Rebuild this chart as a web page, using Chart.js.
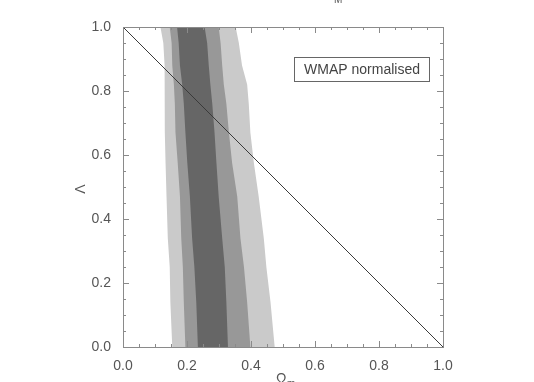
<!DOCTYPE html>
<html>
<head>
<meta charset="utf-8">
<script src="https://cdn.jsdelivr.net/npm/chart.js@4/dist/chart.umd.min.js"></script>
<style>
  html, body { margin: 0; padding: 0; background: #fff; }
</style>
</head>
<body>
<canvas id="chart" width="534" height="382"></canvas>
<script>
const lambdaLevels = [1.0, 0.95, 0.88, 0.82, 0.76, 0.67, 0.575, 0.47, 0.34, 0.25, 0.14, 0.0];
// Omega_m of each contour edge at those Lambda values
const lightLeft  = [0.117, 0.126, 0.130, 0.131, 0.130, 0.131, 0.133, 0.136, 0.140, 0.146, 0.148, 0.154];
const midLeft    = [0.146, 0.152, 0.154, 0.159, 0.162, 0.164, 0.171, 0.178, 0.182, 0.187, 0.190, 0.195];
const darkLeft   = [0.169, 0.174, 0.178, 0.185, 0.190, 0.195, 0.201, 0.209, 0.216, 0.223, 0.229, 0.234];
const darkRight  = [0.255, 0.263, 0.268, 0.273, 0.279, 0.286, 0.292, 0.299, 0.310, 0.318, 0.323, 0.328];
const midRight   = [0.299, 0.305, 0.310, 0.315, 0.323, 0.331, 0.341, 0.357, 0.367, 0.378, 0.388, 0.398];
const lightRight = [0.352, 0.362, 0.372, 0.388, 0.393, 0.398, 0.409, 0.424, 0.440, 0.448, 0.461, 0.474];
// flat universe line
const flatOmega  = [0, 1];
const flatLambda = [1, 0];
const tickStep = 0.2;
const legendText = 'WMAP normalised';

// closed shape: left edge going down, right edge coming back up
function band(left, right) {
  const pts = left.map((x, i) => ({ x, y: lambdaLevels[i] }));
  for (let i = right.length - 1; i >= 0; i -= 1) pts.push({ x: right[i], y: lambdaLevels[i] });
  return pts;
}

function bandSet(left, right, color) {
  return {
    data: band(left, right),
    showLine: true,
    fill: 'shape',
    backgroundColor: color,
    borderWidth: 0,
    pointRadius: 0,
    tension: 0,
  };
}

const textFont = '"Liberation Sans", Arial, sans-serif';

// IDL-ish frame: box on all four sides with inward ticks, plus the loose texts
const frameAndText = {
  id: 'frameAndText',
  afterDraw(chart) {
    const { ctx, chartArea: a, scales } = chart;
    const sx = scales.x;
    const sy = scales.y;
    ctx.save();
    ctx.strokeStyle = '#8a8a8a';
    ctx.lineWidth = 1;
    ctx.strokeRect(a.left + 0.5, a.top + 0.5, a.right - a.left, a.bottom - a.top);
    ctx.beginPath();
    for (let i = 0; i <= 20; i += 1) {
      const v = i / 20;
      const len = i % 4 === 0 ? 6 : 3;
      const px = Math.round(sx.getPixelForValue(v)) + 0.5;
      const py = Math.round(sy.getPixelForValue(v)) + 0.5;
      ctx.moveTo(px, a.bottom); ctx.lineTo(px, a.bottom - len);
      ctx.moveTo(px, a.top); ctx.lineTo(px, a.top + len);
      ctx.moveTo(a.left, py); ctx.lineTo(a.left + len, py);
      ctx.moveTo(a.right, py); ctx.lineTo(a.right - len, py);
    }
    ctx.stroke();

    // legend box
    ctx.strokeStyle = '#666';
    ctx.strokeRect(294.5, 57.5, 135, 24);
    ctx.fillStyle = '#444';
    ctx.font = '14px ' + textFont;
    ctx.textAlign = 'center';
    ctx.textBaseline = 'middle';
    ctx.fillText(legendText, 362, 70);

    // axis titles
    ctx.fillStyle = '#555';
    ctx.textAlign = 'left';
    ctx.textBaseline = 'alphabetic';
    ctx.font = '14px ' + textFont;
    ctx.fillText('\u03A9', 276, 383);
    ctx.font = '10px ' + textFont;
    ctx.fillText('m', 287, 387);
    ctx.fillText('M', 334, 3);

    ctx.translate(81, 189);
    ctx.rotate(-Math.PI / 2);
    ctx.textAlign = 'center';
    ctx.textBaseline = 'middle';
    ctx.font = '14px ' + textFont;
    ctx.fillText('\u039B', 0, 0);
    ctx.restore();
  },
};

const axisCommon = {
  type: 'linear',
  min: 0,
  max: 1,
  grid: { display: false },
  border: { display: false },
};

new Chart(document.getElementById('chart'), {
  type: 'scatter',
  data: {
    datasets: [
      {
        data: flatOmega.map((x, i) => ({ x, y: flatLambda[i] })),
        showLine: true,
        borderColor: '#3a3a3a',
        borderWidth: 1,
        pointRadius: 0,
        fill: false,
      },
      bandSet(darkLeft, darkRight, 'rgb(102,102,102)'),
      bandSet(midLeft, midRight, 'rgb(152,152,152)'),
      bandSet(lightLeft, lightRight, 'rgb(202,202,202)'),
    ],
  },
  options: {
    responsive: false,
    animation: false,
    layout: { padding: { top: 27, right: 91, bottom: 0, left: 0 } },
    plugins: { legend: { display: false }, tooltip: { enabled: false } },
    scales: {
      x: {
        ...axisCommon,
        position: 'bottom',
        afterFit(scale) { scale.height = 35; },
        ticks: {
          stepSize: tickStep,
          padding: 3,
          color: '#555',
          font: { family: textFont, size: 14 },
          maxRotation: 0,
          callback: (v) => v.toFixed(1),
        },
      },
      y: {
        ...axisCommon,
        position: 'left',
        afterFit(scale) { scale.width = 123; },
        ticks: {
          stepSize: tickStep,
          padding: 4,
          color: '#555',
          font: { family: textFont, size: 14 },
          callback: (v) => v.toFixed(1),
        },
      },
    },
  },
  plugins: [frameAndText],
});
</script>
</body>
</html>
